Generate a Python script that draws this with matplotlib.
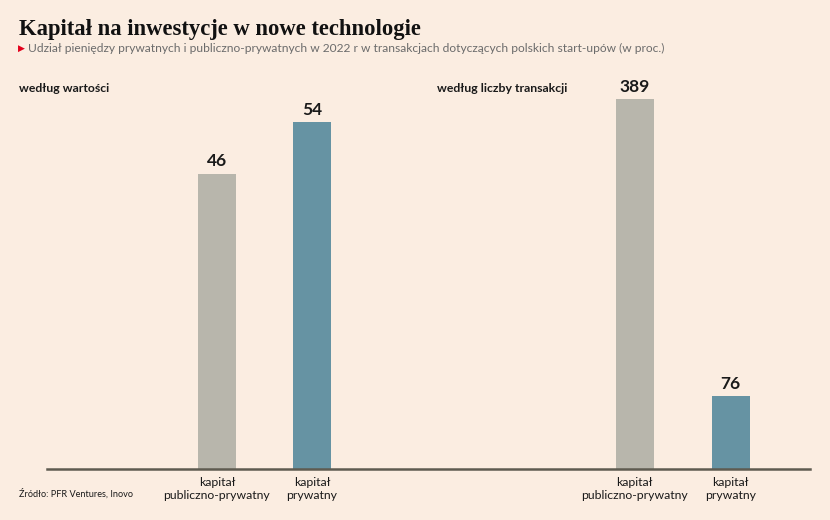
import matplotlib
matplotlib.use("Agg")
import matplotlib.pyplot as plt
from matplotlib.lines import Line2D

# ── data ──────────────────────────────────────────────────────────────────────
categories = ["kapitał\npubliczno-prywatny", "kapitał\nprywatny"]
by_value = [46, 54]
by_count = [389, 76]
panel_titles = ["według wartości", "według liczby transakcji"]

TITLE = "Kapitał na inwestycje w nowe technologie"
SUBTITLE = ("Udział pieniędzy prywatnych i publiczno-prywatnych w 2022 r "
            "w transakcjach dotyczących polskich start-upów (w proc.)")
SOURCE = "Źródło: PFR Ventures, Inovo"

BG = "#FBEDE1"
COLORS = ["#B8B6AC", "#6693A3"]
BASE = "#5E5B50"
TEXT = "#1A1A1A"
SANS = ["Lato", "DejaVu Sans"]

W, H = 830, 520
fig = plt.figure(figsize=(W / 100, H / 100), dpi=100, facecolor=BG)


def px_axes(x0, x1, y_top, y_base):
    return fig.add_axes([x0 / W, 1 - y_base / H, (x1 - x0) / W, (y_base - y_top) / H])


def draw_panel(ax, values, first_px, step_px, width_px, ax_px, ymax):
    unit = step_px
    left = -first_px / unit
    ax.set_xlim(left, left + ax_px / unit)
    ax.set_ylim(0, ymax)
    ax.set_facecolor("none")
    x = [0, 1]
    ax.bar(x, values, width_px / unit, color=COLORS, linewidth=0)
    for xi, v in zip(x, values):
        ax.text(xi, v + ymax * 0.012, str(v), ha="center", va="bottom",
                fontsize=12.5, fontweight="bold", color=TEXT, family=SANS)
    for xi, c in zip(x, categories):
        ax.text(xi, -ymax * 0.023, c, ha="center", va="top", fontsize=8.8,
                color=TEXT, family=SANS, linespacing=1.2)
    ax.axis("off")


Y_TOP, Y_BASE = 90, 468.5
ax_l = px_axes(47, 429, Y_TOP, Y_BASE)
ax_r = px_axes(428, 810, Y_TOP, Y_BASE)

# left: 6.41 px per pp, right: ~0.95 px per transaction
draw_panel(ax_l, by_value, 217 - 47, 95, 38, 382, (Y_BASE - Y_TOP) / 6.41)
draw_panel(ax_r, by_count, 634.5 - 428, 96, 38, 382, (Y_BASE - Y_TOP) / 0.949)

# shared baseline across both panels
fig.add_artist(Line2D([47 / W, 810 / W], [1 - Y_BASE / H] * 2,
                      color=BASE, linewidth=1.8, transform=fig.transFigure))

# ── header / footer texts ─────────────────────────────────────────────────────
fig.text(19 / W, 1 - 30 / H, TITLE, fontsize=16.3, fontweight="bold",
         family="Liberation Serif", color="#111111", va="center")
fig.text(18 / W, 1 - 48.5 / H, "▶", fontsize=6.5, color="#E3001B",
         family=SANS, va="center")
fig.text(28 / W, 1 - 48.5 / H, SUBTITLE, fontsize=8.65, color="#6B6B6B",
         family=SANS, va="center")
fig.text(19 / W, 1 - 88 / H, panel_titles[0], fontsize=8.8, fontweight="bold",
         color=TEXT, family=SANS, va="center")
fig.text(437 / W, 1 - 88 / H, panel_titles[1], fontsize=8.8, fontweight="bold",
         color=TEXT, family=SANS, va="center")
fig.text(19 / W, 1 - 494 / H, SOURCE, fontsize=6.6, color=TEXT,
         family=SANS, va="center")

fig.savefig("out.png", dpi=100, facecolor=BG)
